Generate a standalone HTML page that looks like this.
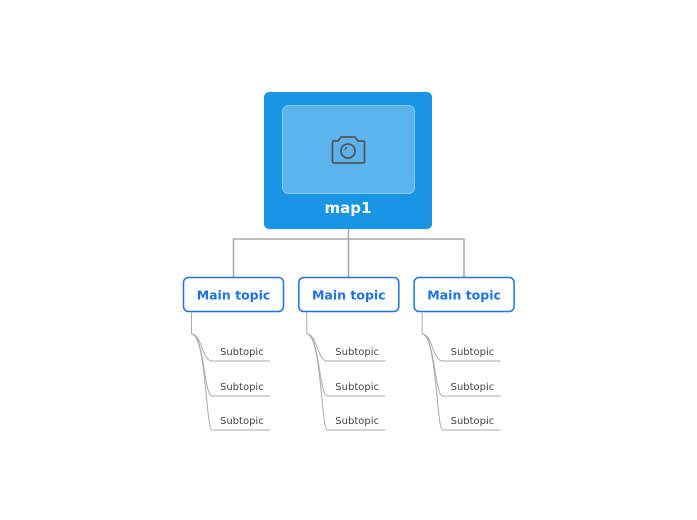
<!DOCTYPE html>
<html><head><meta charset="utf-8"><style>
html,body{margin:0;padding:0;background:#fff;width:697px;height:520px;overflow:hidden}
svg{display:block}
</style></head><body>
<svg width="697" height="520" viewBox="0 0 697 520" xmlns="http://www.w3.org/2000/svg">
<rect x="264" y="92" width="168" height="137" rx="5" fill="#1995e6"/>
<rect x="282.5" y="105.5" width="132" height="88" rx="6" fill="#5cb3ee" stroke="#8cc8f2" stroke-width="1"/>
<g fill="none" stroke="#555" stroke-width="1.8" stroke-linejoin="round">
<path d="M333,141 h5 l3,-4 h14 l3,4 h5 a1.5,1.5 0 0 1 1.5,1.5 v19 a1.5,1.5 0 0 1 -1.5,1.5 h-29 a1.5,1.5 0 0 1 -1.5,-1.5 v-19 a1.5,1.5 0 0 1 1.5,-1.5z"/>
<circle cx="348" cy="151" r="7"/>
<path d="M345,150 a3,3 0 0 1 2,-2.5" stroke-width="1.2"/>
</g>
<text x="348" y="213" text-anchor="middle" font-family="DejaVu Sans, sans-serif" font-weight="bold" font-size="15" fill="#fff">map1</text>
<g fill="none" stroke="#aaa" stroke-width="1.6">
<path d="M348.5,229 V239 M233.5,277 V239 H464 V277 M348.5,239 V277"/>
</g>
<g font-family="DejaVu Sans, sans-serif">
<g id="c1">
<rect x="183.5" y="277.5" width="100" height="34" rx="5" fill="#fff" stroke="#1a73e8" stroke-width="1.5"/>
<text x="233.5" y="299.5" text-anchor="middle" font-weight="bold" font-size="12.5" fill="#1a73e8">Main topic</text>
<g fill="none" stroke="#aaa" stroke-width="1">
<path d="M191.5,312 V334"/>
<path d="M191.5,334 C202,334 202,361 212,361 H270"/>
<path d="M191.5,334 C204,334 204,396 212,396 H270"/>
<path d="M191.5,334 C206,334 206,430 212,430 H270"/>
</g>
<g font-size="10" fill="#444">
<text x="220" y="355">Subtopic</text>
<text x="220" y="390">Subtopic</text>
<text x="220" y="424">Subtopic</text>
</g>
</g>
<use href="#c1" transform="translate(115.3,0)"/>
<use href="#c1" transform="translate(230.6,0)"/>
</g>
</svg>
</body></html>
